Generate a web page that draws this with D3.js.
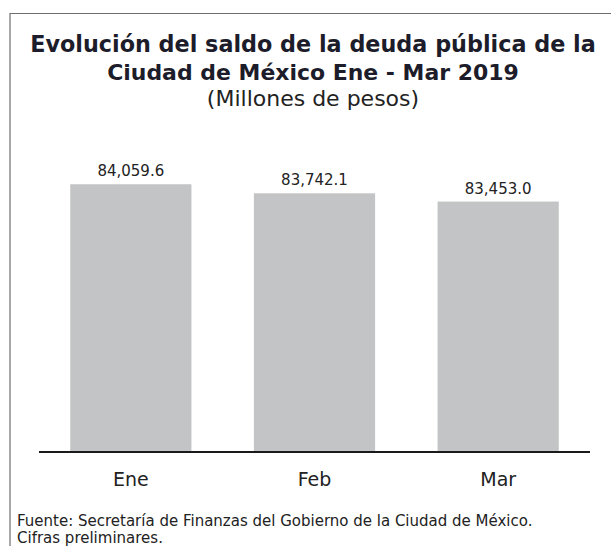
<!DOCTYPE html>
<html>
<head>
<meta charset="utf-8">
<script src="https://cdn.jsdelivr.net/npm/d3@7"></script>
<style>
  html, body { margin: 0; padding: 0; background: #fff; }
  svg { display: block; font-family: "DejaVu Sans", sans-serif; }
</style>
</head>
<body>
<div id="wrapper"></div>
<script>
// Data
var months = ["Ene", "Feb", "Mar"];
var saldo = [84059.6, 83742.1, 83453.0];
var valueLabels = ["84,059.6", "83,742.1", "83,453.0"];

var titleLines = ["Evolución del saldo de la deuda pública de la", "Ciudad de México Ene - Mar 2019"];
var subtitle = "(Millones de pesos)";
var footnotes = ["Fuente: Secretaría de Finanzas del Gobierno de la Ciudad de México.", "Cifras preliminares."];

var width = 611, height = 546;
var dataset = months.map(function(m, i) { return { name: m, value: saldo[i], label: valueLabels[i] }; });

var svg = d3.select("#wrapper")
    .append("svg")
    .attr("width", width)
    .attr("height", height);

// frame (top + left edges, as in the clipped original)
svg.append("path")
    .attr("d", "M10,546 V13.5 H611")
    .attr("fill", "none")
    .attr("stroke", "#6f6f6f")
    .attr("stroke-width", 1.2);

// Function: scale font-size so a text reaches a target width (capped)
var fitSize = function(sel, target, maxSize) {
    var w = sel.node().getComputedTextLength();
    var fs = parseFloat(sel.attr("font-size"));
    sel.attr("font-size", Math.min(fs * target / w, maxSize));
};

// titles
var t1 = svg.append("text").text(titleLines[0])
    .attr("x", 313).attr("y", 52)
    .attr("text-anchor", "middle")
    .attr("font-size", 24).attr("font-weight", 700)
    .attr("fill", "#1c1c2a");
fitSize(t1, 566, 25);

var t2 = svg.append("text").text(titleLines[1])
    .attr("x", 313).attr("y", 80)
    .attr("text-anchor", "middle")
    .attr("font-size", 24).attr("font-weight", 700)
    .attr("fill", "#1c1c2a");
fitSize(t2, 412, 25);

var t3 = svg.append("text").text(subtitle)
    .attr("x", 313).attr("y", 106)
    .attr("text-anchor", "middle")
    .attr("font-size", 19)
    .attr("fill", "#222");
fitSize(t3, 224, 22);

// scales
var x = d3.scaleBand()
    .domain(months)
    .range([39, 590])
    .paddingInner(0.34)
    .paddingOuter(0.17);

var y = d3.scaleLinear()
    .domain([74700, 85000])
    .range([451, 451 - 10300 * 0.0285]);

// bars
svg.selectAll("rect.bar")
    .data(dataset)
    .enter()
    .append("rect")
    .attr("class", "bar")
    .attr("x", function(d) { return x(d.name); })
    .attr("y", function(d) { return y(d.value); })
    .attr("width", x.bandwidth())
    .attr("height", function(d) { return y.range()[0] - y(d.value); })
    .attr("fill", "#c3c4c5");

// value labels
svg.selectAll("text.val")
    .data(dataset)
    .enter()
    .append("text")
    .attr("class", "val")
    .text(function(d) { return d.label; })
    .attr("x", function(d) { return x(d.name) + x.bandwidth() / 2; })
    .attr("y", function(d) { return y(d.value) - 8; })
    .attr("text-anchor", "middle")
    .attr("font-size", 15)
    .attr("fill", "#222");

// x axis
var xAxis = svg.append("g")
    .attr("transform", "translate(0," + 452 + ")")
    .call(d3.axisBottom(x).tickSize(0).tickPadding(0));

xAxis.select(".domain")
    .attr("d", "M39,0H590")
    .attr("stroke", "#1a1a1a")
    .attr("stroke-width", 2.2);

xAxis.selectAll(".tick text")
    .attr("y", 34)
    .attr("dy", 0)
    .attr("font-family", "DejaVu Sans, sans-serif")
    .attr("font-size", 19)
    .attr("fill", "#222");

// footnotes
svg.selectAll("text.foot")
    .data(footnotes)
    .enter()
    .append("text")
    .attr("class", "foot")
    .text(function(d) { return d; })
    .attr("x", 17)
    .attr("y", function(d, i) { return 526 + i * 16.5; })
    .attr("font-size", 13)
    .attr("fill", "#222");

var f1 = svg.select("text.foot");
fitSize(f1, 544, 15);
svg.selectAll("text.foot").attr("font-size", f1.attr("font-size"));
</script>
</body>
</html>
